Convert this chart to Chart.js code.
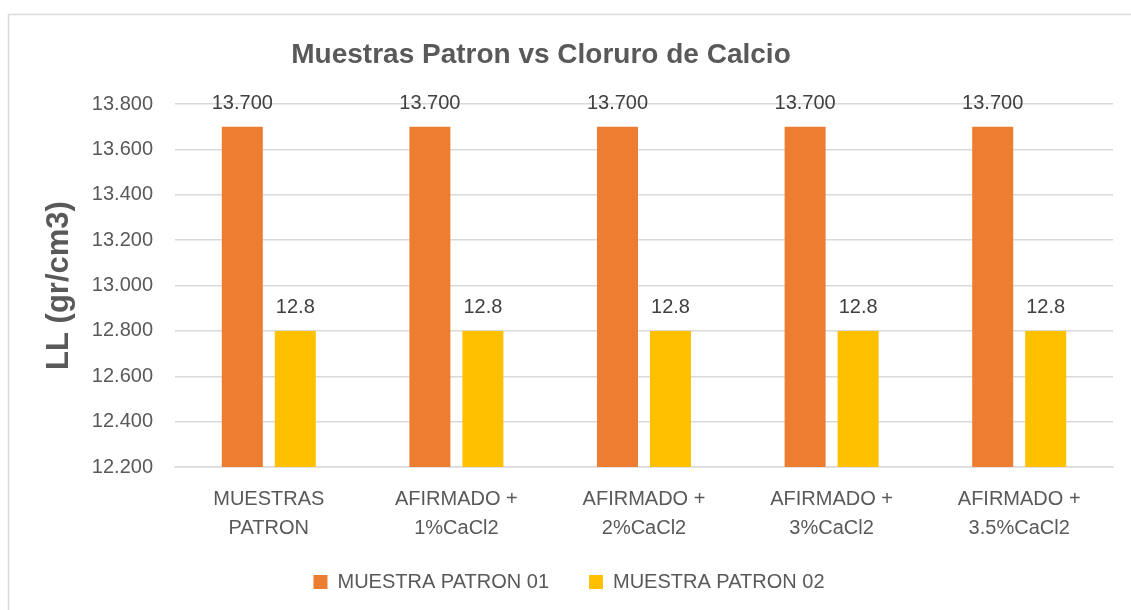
<!DOCTYPE html>
<html>
<head>
<meta charset="utf-8">
<script src="https://cdn.jsdelivr.net/npm/chart.js@4"></script>
<style>
  html, body { margin: 0; padding: 0; background: #fff; }
  #wrap { width: 1131px; height: 610px; position: relative; }
</style>
</head>
<body>
<div id="wrap"><canvas id="chart"></canvas></div>
<script>
// data
const categories = [
  ["MUESTRAS", "PATRON"],
  ["AFIRMADO +", "1%CaCl2"],
  ["AFIRMADO +", "2%CaCl2"],
  ["AFIRMADO +", "3%CaCl2"],
  ["AFIRMADO +", "3.5%CaCl2"]
];
const seriesNames = ["MUESTRA PATRON 01", "MUESTRA PATRON 02"];
const patron01 = [13.7, 13.7, 13.7, 13.7, 13.7];
const patron02 = [12.8, 12.8, 12.8, 12.8, 12.8];
const labelDecimals = [3, 1]; // 13.700 vs 12.8
const yMin = 12.2, yMax = 13.8, yStep = 0.2;

const textColor = "#595959";
const bodyFont = "'Liberation Sans', Arial, sans-serif";

// outer frame + title
const framePlugin = {
  id: "frame",
  afterLayout(chart) {
    // x labels overlap the legend band a little, don't clip them
    chart.scales.x.bottom = chart.height;
  },
  beforeDraw(chart) {
    const ctx = chart.ctx;
    ctx.save();
    ctx.fillStyle = "#fff";
    ctx.fillRect(0, 0, chart.width, chart.height);
    ctx.strokeStyle = "#D9D9D9";
    ctx.lineWidth = 1.5;
    ctx.strokeRect(8.5, 14.5, chart.width + 20, chart.height + 20);
    ctx.restore();
  },
  afterDraw(chart) {
    const ctx = chart.ctx;
    ctx.save();
    ctx.fillStyle = textColor;
    ctx.font = "bold 28px " + bodyFont;
    ctx.textAlign = "center";
    ctx.textBaseline = "alphabetic";
    ctx.fillText("Muestras Patron vs Cloruro de Calcio", 541, 63);
    ctx.restore();
  }
};

// value labels above the bars
const valueLabels = {
  id: "valueLabels",
  afterDatasetsDraw(chart) {
    const ctx = chart.ctx;
    ctx.save();
    ctx.fillStyle = "#404040";
    ctx.font = "20px " + bodyFont;
    ctx.textAlign = "center";
    ctx.textBaseline = "alphabetic";
    chart.data.datasets.forEach((ds, i) => {
      const meta = chart.getDatasetMeta(i);
      meta.data.forEach((bar, j) => {
        ctx.fillText(ds.data[j].toFixed(labelDecimals[i]), bar.x, bar.y - 18);
      });
    });
    ctx.restore();
  }
};

new Chart(document.getElementById("chart"), {
  type: "bar",
  data: {
    labels: categories,
    datasets: [
      { label: seriesNames[0], data: patron01, backgroundColor: "#ED7D31" },
      { label: seriesNames[1], data: patron02, backgroundColor: "#FFC000" }
    ]
  },
  options: {
    responsive: true,
    maintainAspectRatio: false,
    animation: false,
    datasets: {
      bar: { categoryPercentage: 0.565, barPercentage: 0.774 }
    },
    layout: { padding: { left: 25, right: 18, top: 104, bottom: 8 } },
    scales: {
      x: {
        afterFit(scale) { scale.height -= 21; },
        grid: { display: false },
        border: { color: "#D9D9D9", width: 1.5 },
        ticks: {
          color: textColor,
          font: { family: bodyFont, size: 20, lineHeight: 1.45 },
          padding: 10,
          maxRotation: 0,
          autoSkip: false
        }
      },
      y: {
        min: yMin,
        max: yMax,
        afterFit(scale) { scale.width = 150; },
        grid: { color: "#D9D9D9", lineWidth: 1.5, drawTicks: false },
        border: { display: false },
        ticks: {
          stepSize: yStep,
          padding: 22,
          color: textColor,
          font: { family: bodyFont, size: 20 },
          callback: (v) => v.toFixed(3)
        },
        title: {
          display: true,
          text: "LL (gr/cm3)",
          color: textColor,
          font: { family: bodyFont, size: 31, weight: "bold" },
          padding: { top: 16, bottom: 0 }
        }
      }
    },
    plugins: {
      title: { display: false },
      tooltip: { enabled: false },
      legend: {
        position: "bottom",
        labels: {
          color: textColor,
          font: { family: bodyFont, size: 20 },
          boxWidth: 14,
          boxHeight: 14,
          padding: 40
        }
      }
    }
  },
  plugins: [framePlugin, valueLabels]
});
</script>
</body>
</html>
